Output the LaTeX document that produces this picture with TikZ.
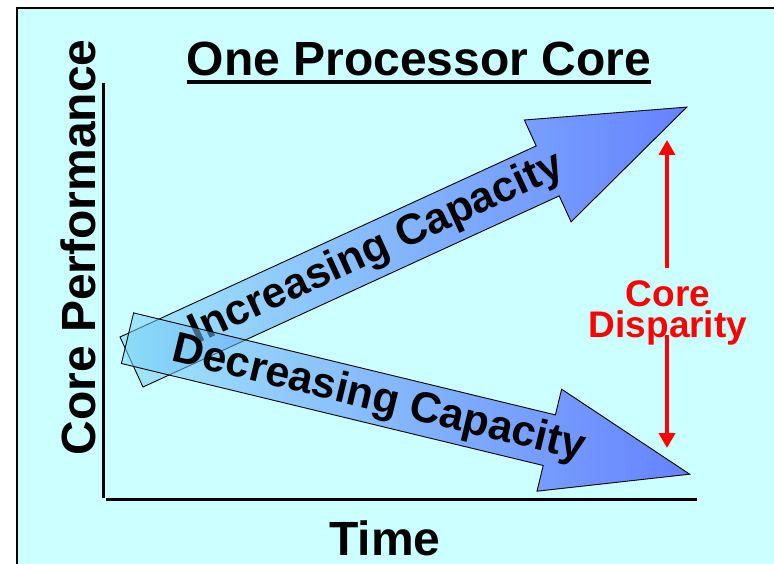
\documentclass[tikz,border=0pt]{standalone}
\usepackage{fontspec}
\setmainfont{Liberation Sans}
\usetikzlibrary{arrows.meta}
\definecolor{bgcyan}{RGB}{204,255,255}
\definecolor{incL}{RGB}{160,232,250}
\definecolor{incR}{RGB}{102,130,255}
\definecolor{decL}{RGB}{124,213,246}
\definecolor{decR}{RGB}{19,28,255}
\definecolor{disp}{RGB}{255,0,0}
\begin{document}
\begin{tikzpicture}[x=1pt,y=-1pt,
  bigfont/.style={font=\fontsize{48}{52}\selectfont\bfseries, inner sep=0pt},
  arrowfont/.style={font=\fontsize{43}{47}\selectfont\bfseries, inner sep=0pt},
  dispfont/.style={font=\fontsize{37}{31}\selectfont\bfseries, text=disp, inner sep=0pt, align=center},
  axisline/.style={line width=3pt, black},
  incarrow/.style={left color=incL, right color=incR, draw=black, line width=0.9pt, line join=miter},
  decarrow/.style={left color=decL, right color=decR, fill opacity=0.55, draw=black, draw opacity=1, line width=0.9pt, line join=miter},
  disparrow/.style={disp, line width=4.7pt, -{Triangle[width=16pt,length=15pt]}}]
\useasboundingbox (0,0) rectangle (774,564);
\clip (0,0) rectangle (774,564);
\fill[white] (0,0) rectangle (774,564);
% slide frame
\draw[fill=bgcyan, line width=2.4pt] (17,8) rectangle (800,600);

% title
\node[bigfont, anchor=base] (title) at (419,76) {One Processor Core};
\draw[line width=4pt] ([yshift=-6.5pt]title.base west) -- ([yshift=-6.5pt]title.base east);

% axes
\coordinate (ytop) at (103,83);
\coordinate (ybot) at (103,498);
\coordinate (xleft) at (106,499);
\coordinate (xright) at (697,499);
\draw[axisline] (ytop) -- (ybot);
\draw[axisline] (xleft) -- (xright);
\node[bigfont, rotate=90, anchor=base] (ylab) at (95,247.5) {Core Performance};
\node[bigfont, anchor=base] (xlab) at (385,555) {Time};

% increasing capacity arrow
\path[incarrow] (120.0,337.0) -- (536.2,145.9) -- (524.3,120.0) -- (686.8,107.1)
  -- (571.1,221.8) -- (559.2,195.9) -- (143.0,387.0) -- cycle;
\node[arrowfont, rotate=24.66, anchor=base] (inctext) at (381.5,259.4) {Increasing Capacity};

% decreasing capacity arrow, see-through
\path[decarrow] (133.6,312.9) -- (555.4,414.9) -- (561.6,389.2) -- (689.7,474.2)
  -- (537.0,491.2) -- (543.2,465.5) -- (121.4,363.5) -- cycle;
\node[arrowfont, rotate=-13.6, anchor=base] (dectext) at (376.0,410.6) {Decreasing Capacity};

% core disparity marker
\node[dispfont, anchor=north] (displab) at (668,280) {Core\\Disparity};
\coordinate (upfrom) at (667,268);
\coordinate (upto) at (667,140);
\coordinate (dnfrom) at (667,335);
\coordinate (dnto) at (667,448);
\draw[disparrow] (upfrom) -- (upto);
\draw[disparrow] (dnfrom) -- (dnto);
\end{tikzpicture}
\end{document}
